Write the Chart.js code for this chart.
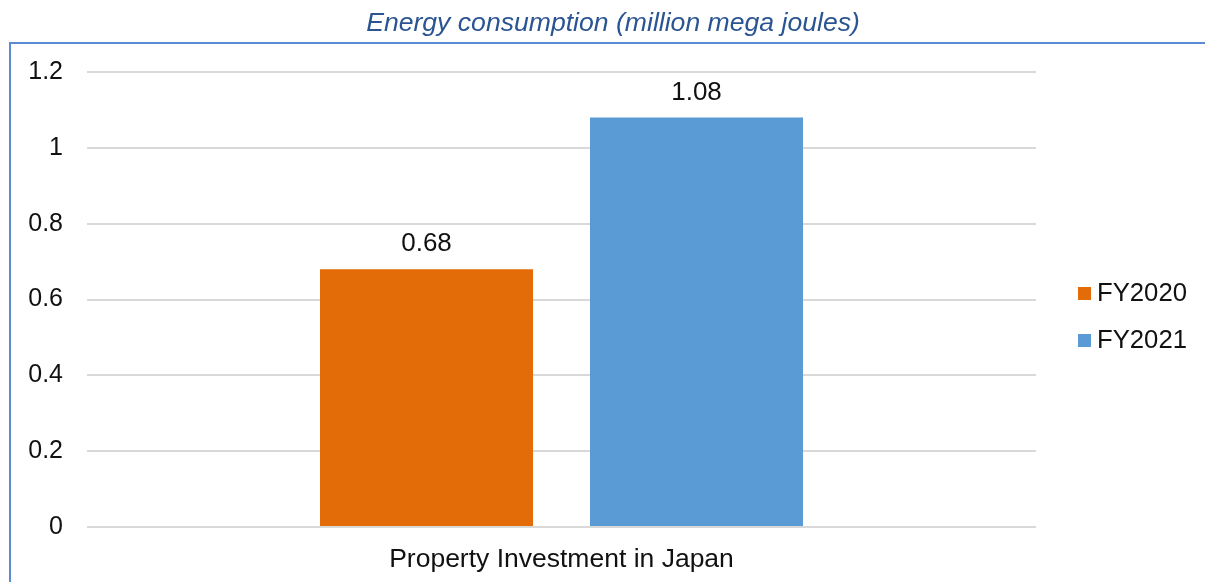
<!DOCTYPE html>
<html>
<head>
<meta charset="utf-8">
<script src="https://cdn.jsdelivr.net/npm/chart.js@4/dist/chart.umd.min.js"></script>
<style>
  html, body { margin: 0; padding: 0; background: #fff; }
  canvas { display: block; }
</style>
</head>
<body>
<canvas id="myChart-1" width="1205" height="582"></canvas>
<script>
const ctx = document.getElementById('myChart-1');

const title = 'Energy consumption (million mega joules)';
const categories = ['Property Investment in Japan'];
const seriesNames = ['FY2020', 'FY2021'];
const fy2020 = [0.68];
const fy2021 = [1.08];
const yTicks = [0, 0.2, 0.4, 0.6, 0.8, 1, 1.2];

const colors = ['#E36C09', '#5B9BD5'];
const FONT = "'Liberation Sans', Arial, sans-serif";

// frame lines (top + left) and the title above them
const framePlugin = {
    id: 'frame',
    beforeDraw(chart) {
        const c = chart.ctx;
        c.save();
        c.strokeStyle = '#5B8BD2';
        c.lineWidth = 2;
        c.beginPath();
        c.moveTo(chart.width, 43);
        c.lineTo(10, 43);
        c.lineTo(10, chart.height);
        c.stroke();

        c.font = 'italic 26.6px ' + FONT;
        c.fillStyle = '#2A5592';
        c.textAlign = 'center';
        c.textBaseline = 'middle';
        c.fillText(title, 613, 24);
        c.restore();
    }
};

// value labels above bars
const valueLabels = {
    id: 'valueLabels',
    afterDatasetsDraw(chart) {
        const c = chart.ctx;
        c.save();
        c.font = '26px ' + FONT;
        c.fillStyle = '#111';
        c.textAlign = 'center';
        c.textBaseline = 'middle';
        chart.data.datasets.forEach((ds, i) => {
            chart.getDatasetMeta(i).data.forEach((bar, j) => {
                c.fillText(String(ds.data[j]), bar.x, bar.y - 25);
            });
        });
        c.restore();
    }
};

// legend on the right
const sideLegend = {
    id: 'sideLegend',
    afterDraw(chart) {
        const c = chart.ctx;
        const x = chart.chartArea.right + 42;
        c.save();
        c.font = '25.7px ' + FONT;
        c.textBaseline = 'middle';
        chart.data.datasets.forEach((ds, i) => {
            const y = 293 + i * 47;
            c.fillStyle = ds.backgroundColor;
            c.fillRect(x, y - 6, 13, 13);
            c.fillStyle = '#111';
            c.fillText(ds.label, x + 19, y + 1);
        });
        c.restore();
    }
};

new Chart(ctx, {
    type: 'bar',
    data: {
        labels: categories,
        datasets: [
            { label: seriesNames[0], data: fy2020, backgroundColor: colors[0], borderWidth: 0 },
            { label: seriesNames[1], data: fy2021, backgroundColor: colors[1], borderWidth: 0 }
        ]
    },
    options: {
        responsive: false,
        animation: false,
        categoryPercentage: 0.569,
        barPercentage: 0.789,
        layout: {
            padding: { left: 0, right: 169, top: 72, bottom: 0 }
        },
        plugins: {
            legend: { display: false },
            tooltip: { enabled: false },
            title: { display: false }
        },
        scales: {
            x: {
                afterFit(scale) { scale.height = 55; },
                grid: { display: false, drawTicks: false },
                border: { display: false },
                ticks: {
                    color: '#111',
                    padding: 17,
                    font: { family: FONT, size: 26.5 }
                }
            },
            y: {
                min: 0,
                max: 1.2,
                afterFit(scale) { scale.width = 87; },
                afterBuildTicks(scale) { scale.ticks = yTicks.map(v => ({ value: v })); },
                grid: { color: '#D9D9D9', lineWidth: 2, drawTicks: false },
                border: { display: false },
                ticks: {
                    color: '#111',
                    padding: 24,
                    font: { family: FONT, size: 25 },
                    callback: v => String(+v.toFixed(1))
                }
            }
        }
    },
    plugins: [framePlugin, valueLabels, sideLegend]
});
</script>
</body>
</html>
